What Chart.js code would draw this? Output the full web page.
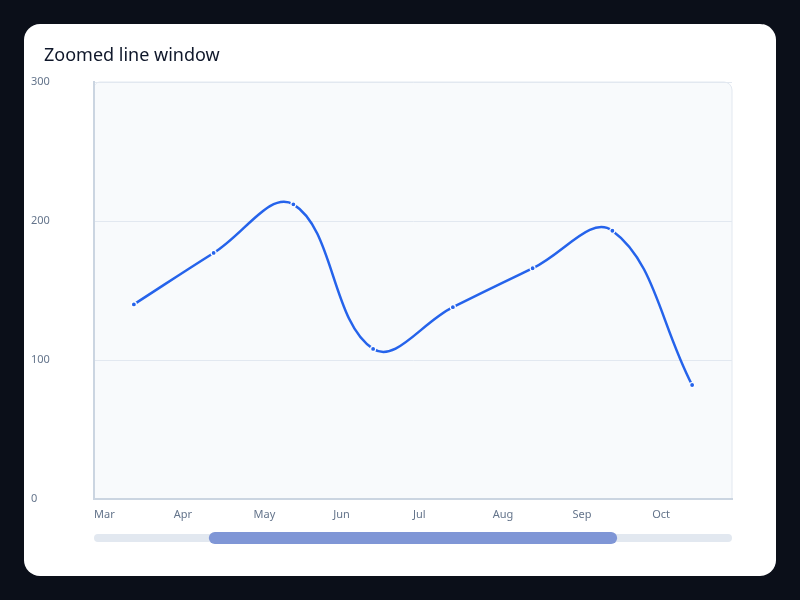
<!DOCTYPE html>
<html>
<head>
<meta charset="utf-8">
<script src="https://cdn.jsdelivr.net/npm/chart.js@4.4.1/dist/chart.umd.min.js"></script>
<style>
  html, body { margin: 0; padding: 0; background: #0b0f19; width: 800px; height: 600px; overflow: hidden; }
  #card { position: absolute; left: 24px; top: 24px; width: 752px; height: 552px; background: #ffffff; border-radius: 16px; overflow: hidden; }
  #title { position: absolute; left: 20px; top: 18px; font-family: "Noto Sans", sans-serif; font-size: 18px; color: #0f172a; white-space: nowrap; }
  #wrap { position: absolute; left: 0; top: 0; width: 752px; height: 552px; }
</style>
</head>
<body>
<div id="card">
  <div id="wrap"><canvas id="c"></canvas></div>
  <div id="title">Zoomed line window</div>
</div>
<script>
const months = ["Mar", "Apr", "May", "Jun", "Jul", "Aug", "Sep", "Oct"];
const values = [140, 177, 212, 108, 138, 166, 193, 82];
const yTicks = [0, 100, 200, 300];
const scrollWindow = [0.18, 0.82];

const points = values.map((v, i) => ({ x: i, y: v }));

const plotBg = {
  id: 'plotBg',
  beforeDraw(chart) {
    const { ctx, chartArea: a } = chart;
    ctx.save();
    ctx.beginPath();
    ctx.roundRect(a.left, a.top, a.right - a.left, a.bottom - a.top, [6, 8, 0, 0]);
    ctx.fillStyle = '#f8fafc';
    ctx.fill();
    ctx.strokeStyle = '#e2e8f0';
    ctx.lineWidth = 1;
    ctx.stroke();
    ctx.restore();
  }
};

const scrollbar = {
  id: 'scrollbar',
  afterDraw(chart) {
    const { ctx, chartArea: a } = chart;
    const w = a.right - a.left;
    ctx.save();
    ctx.beginPath();
    ctx.roundRect(a.left, a.bottom + 35, w, 8, 4);
    ctx.fillStyle = '#e2e8f0';
    ctx.fill();
    const x0 = a.left + w * scrollWindow[0];
    const x1 = a.left + w * scrollWindow[1];
    ctx.beginPath();
    ctx.roundRect(x0, a.bottom + 33, x1 - x0, 12, 6);
    ctx.fillStyle = '#7f96d6';
    ctx.fill();
    ctx.restore();
  }
};

new Chart(document.getElementById('c'), {
  type: 'line',
  data: {
    datasets: [{
      data: points,
      borderColor: '#2563eb',
      borderWidth: 2.5,
      tension: 0.4,
      pointRadius: 2.5,
      pointBackgroundColor: '#2563eb',
      pointBorderColor: '#ffffff',
      pointBorderWidth: 1.2,
      fill: false
    }]
  },
  options: {
    responsive: true,
    maintainAspectRatio: false,
    animation: false,
    layout: { padding: { left: 7, top: 58, right: 44, bottom: 47 } },
    plugins: { legend: { display: false }, tooltip: { enabled: false }, title: { display: false } },
    scales: {
      x: {
        type: 'linear',
        min: -0.5,
        max: months.length - 0.5,
        afterBuildTicks(scale) {
          scale.ticks = months.map((m, i) => ({ value: i - 0.5 }));
        },
        afterFit(scale) { scale.height = 30; },
        grid: { display: false, drawTicks: false },
        border: { display: true, color: '#cbd5e1', width: 2 },
        ticks: {
          align: 'start',
          padding: 9,
          maxRotation: 0,
          autoSkip: false,
          color: '#64748b',
          font: { family: '"Noto Sans", sans-serif', size: 11 },
          callback: (v) => months[Math.round(v + 0.5)]
        }
      },
      y: {
        min: 0,
        max: 300,
        afterBuildTicks(scale) {
          scale.ticks = yTicks.map(v => ({ value: v }));
        },
        afterFit(scale) { scale.width = 63; },
        grid: { color: '#e2e8f0', drawTicks: false, lineWidth: 1 },
        border: { display: true, color: '#cbd5e1', width: 2 },
        ticks: {
          crossAlign: 'far',
          padding: 8,
          color: '#64748b',
          font: { family: '"Noto Sans", sans-serif', size: 11 }
        }
      }
    }
  },
  plugins: [plotBg, scrollbar]
});
</script>
</body>
</html>
